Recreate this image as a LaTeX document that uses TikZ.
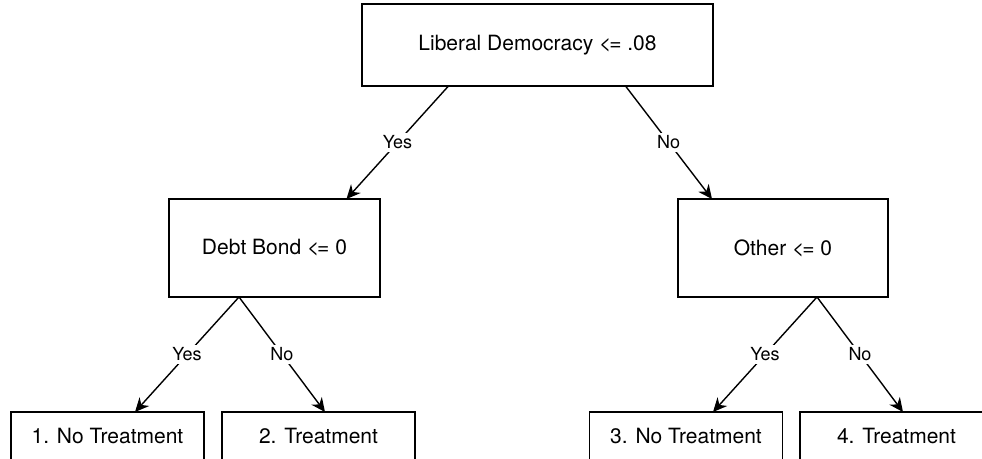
\documentclass[tikz,border=0pt]{standalone}
\usepackage{fontspec}
\setmainfont{TeX Gyre Heros}
\usetikzlibrary{arrows.meta}

\newcommand{\leqsign}{<\kern-0.1em=}

\begin{document}
\begin{tikzpicture}[x=0.5pt, y=-0.5pt,
    test/.style={draw, line width=0.95pt, inner sep=0pt, outer sep=0pt,
      font=\fontsize{10.5}{12}\selectfont},
    leaf/.style={test, minimum width=96.5pt, minimum height=24pt},
    branch/.style={-{Stealth[length=7pt, width=6.5pt]}, line width=0.7pt},
    answer/.style={fill=white, inner sep=1.5pt, font=\fontsize{9}{10}\selectfont}]
  \useasboundingbox (0,0) rectangle (982,459);
  \clip (0,0) rectangle (982,459);

  % split nodes
  \node[test, minimum width=175.5pt, minimum height=41pt] (root) at (537.5,45) {Liberal Democracy \leqsign{} .08};
  \node[test, minimum width=105.5pt, minimum height=49pt] (debt) at (274.5,248) {Debt Bond \leqsign{} 0};
  \node[test, minimum width=105pt, minimum height=49pt] (other) at (783,248) {Other \leqsign{} 0};

  % leaves
  \node[leaf] (leaf1) at (107.5,436) {1. No Treatment};
  \node[leaf] (leaf2) at (318.5,436) {2. Treatment};
  \node[leaf] (leaf3) at (686,436) {3. No Treatment};
  \node[leaf] (leaf4) at (896.5,436) {4. Treatment};

  \draw[branch] ([xshift=-44.5pt]root.south) -- node[answer] {Yes} ([xshift=36pt]debt.north);
  \draw[branch] ([xshift=44pt]root.south) -- node[answer] {No} ([xshift=-35.5pt]other.north);

  \draw[branch] ([xshift=-17.75pt]debt.south) -- node[answer] {Yes} ([xshift=13.75pt]leaf1.north);
  \draw[branch] ([xshift=-17.75pt]debt.south) -- node[answer] {No} ([xshift=3.25pt]leaf2.north);

  \draw[branch] ([xshift=17pt]other.south) -- node[answer] {Yes} ([xshift=13.5pt]leaf3.north);
  \draw[branch] ([xshift=17pt]other.south) -- node[answer] {No} ([xshift=3.25pt]leaf4.north);
\end{tikzpicture}
\end{document}
